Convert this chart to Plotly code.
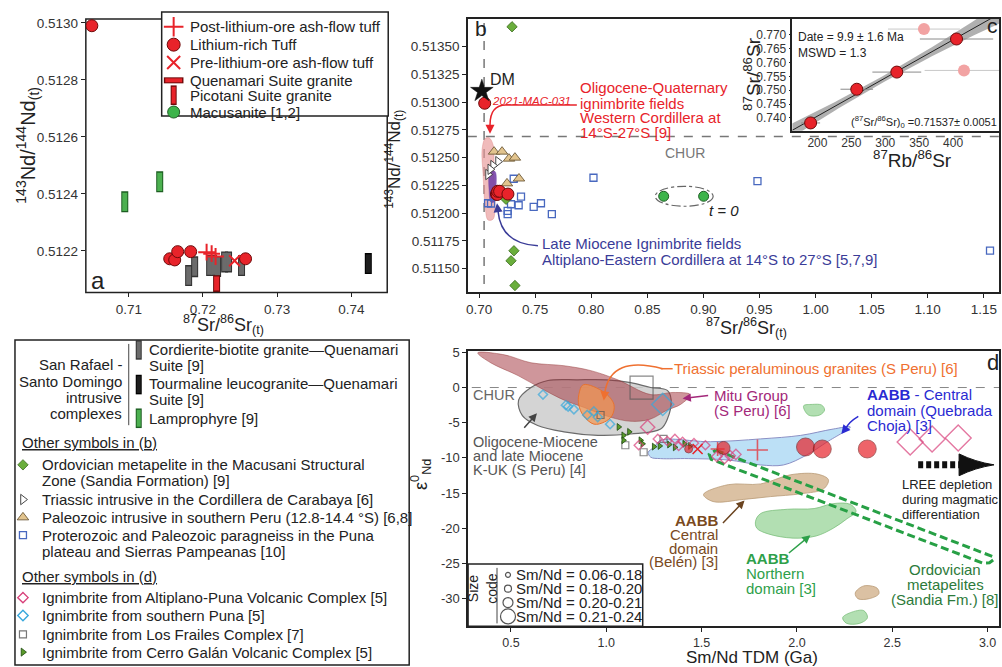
import re
import numpy as np
import plotly.graph_objects as go

W, H = 1002, 667
FONT = "Liberation Sans"
RED = "#e8232a"
RED_EDGE = "#6e0a0a"

# ---------------- (a) / (b): initial 87Sr/86Sr vs 143Nd/144Nd ----------------
post_sr = [0.72049, 0.72117, 0.72170]
post_nd = [0.512195, 0.512190, 0.512180]
li_sr = [0.70502, 0.71552, 0.71619, 0.71659, 0.71834, 0.72574]
li_nd = [0.512990, 0.512172, 0.512168, 0.512197, 0.512197, 0.512172]
pre_sr = [0.72426]
pre_nd = [0.512165]
pico_sr = [0.72184]
pico_nd = [0.512085]
cord_sr = [0.71807, 0.71888, 0.72090, 0.72144, 0.72197, 0.72292, 0.72345, 0.72520]
cord_nd = [0.512113, 0.512144, 0.512148, 0.512148, 0.512145, 0.512161, 0.512161, 0.512148]
tour_sr = [0.74229]
tour_nd = [0.512155]
lamp_sr = [0.70946, 0.71417]
lamp_nd = [0.512372, 0.512442]

# literature data shown in (b)
ord_sr = [0.7294, 0.7240, 0.7311, 0.7285, 0.7320]
ord_nd = [0.513679, 0.512125, 0.511661, 0.511571, 0.511348]
tri_sr = [0.7169, 0.7125, 0.7080, 0.7100]
tri_nd = [0.512464, 0.512429, 0.512348, 0.512395]
pal_sr = [0.7134, 0.7205, 0.7267, 0.7320, 0.7356, 0.7249]
pal_nd = [0.512554, 0.512554, 0.512491, 0.512500, 0.512312, 0.512268]
pgn_sr = [0.7309, 0.7374, 0.7353, 0.7255, 0.7255, 0.7285, 0.7487, 0.7552, 0.7649,
          0.7107, 0.7080, 0.8020, 0.9482, 1.1555]
pgn_nd = [0.512310, 0.512149, 0.512071, 0.512021, 0.511991, 0.512080, 0.512056, 0.512089,
          0.511991, 0.512087, 0.512089, 0.512319, 0.512288, 0.511663]
mac_sr = [0.8646, 0.9002]
mac_nd = [0.512152, 0.512152]
dm_sr = [0.7025]
dm_nd = [0.51310]
chur_nd = 0.51269
bse_sr = 0.7045
# ignimbrite fields in (b)
wc_sr = [0.7089, 0.7125, 0.7133, 0.7142, 0.7125, 0.7080, 0.7053, 0.7036, 0.7027, 0.7053]
wc_nd = [0.512679, 0.512616, 0.512348, 0.512036, 0.511946, 0.511938, 0.512080, 0.512348, 0.512571, 0.512670]
lm_sr = [0.7098, 0.7142, 0.7151, 0.7142, 0.7107, 0.7089]
lm_nd = [0.512366, 0.512375, 0.512214, 0.512107, 0.512098, 0.512214]

# ---------------- (c) Rb-Sr isochron ----------------
iso_rb = [190, 258, 317, 405]
iso_sr = [0.73821, 0.75036, 0.75654, 0.76846]
iso_rb_err = [14, 24, 36, 54]
iso_out_rb = [357, 416]
iso_out_sr = [0.77204, 0.75714]
iso_out_err = [53, 58]
iso_age, iso_age_err, iso_mswd = 9.9, 1.6, 1.3
iso_sr0, iso_sr0_err = 0.71537, 0.0051

# ---------------- (d) Sm/Nd TDM vs eps Nd ----------------
d_li_t = [1.432, 1.615, 2.045, 2.133, 2.369]
d_li_e = [-8.73, -8.59, -8.45, -8.73, -8.73]
d_li_s = [8, 13, 18, 18, 18]
d_post_t = [1.584, 1.793]
d_post_e = [-8.73, -8.87]
d_post_s = [10, 15]
d_pre_t = [1.479]
d_pre_e = [-8.73]
apvc_t = [1.17, 1.27, 1.32, 1.36, 1.40, 1.38, 1.46, 1.52, 1.58, 1.62, 1.65, 1.68, 1.217, 2.594, 2.709, 2.846]
apvc_e = [-8.2, -7.3, -7.6, -7.3, -7.7, -8.3, -7.9, -8.2, -9.8, -10.1, -9.7, -9.5, -5.63, -7.75, -7.32, -7.18]
apvc_s = [7, 7, 7, 7, 7, 7, 7, 7, 8, 8, 8, 8, 11, 20, 20, 20]
spuna_t = [0.668, 0.788, 0.80, 0.83, 0.90, 0.935, 0.955, 1.02, 1.296]
spuna_e = [-1.0, -2.5, -2.7, -3.1, -3.9, -3.4, -4.2, -5.2, -2.4]
spuna_s = [7, 7, 7, 7, 7, 7, 7, 7, 17]
lfc_t = [0.97, 1.10, 1.196, 1.30, 1.185]
lfc_e = [-3.9, -8.2, -9.2, -7.3, 0.0]
lfc_s = [7, 7, 7, 7, 23]
cgvc_t = [1.065, 1.09, 1.12, 1.09, 1.18, 1.19, 1.25, 1.28, 1.33, 1.41, 1.36, 1.44]
cgvc_e = [-5.6, -6.8, -6.3, -7.5, -7.5, -8.0, -8.4, -8.3, -8.1, -8.0, -8.5, -8.3]
# fields in (d)
kuk_t = [0.54, 0.605, 0.694, 0.85, 1.0, 1.128, 1.233, 1.32, 1.34, 1.32, 1.285, 1.128, 0.956, 0.778, 0.64, 0.56]
kuk_e = [-1.8, 0.0, 1.0, 1.1, 1.1, 0.7, 0.0, -0.4, -1.7, -4.5, -5.9, -6.6, -6.8, -6.3, -5.4, -4.0]
mitu_t = [0.326, 0.465, 0.605, 0.778, 0.919, 1.06, 1.233, 1.35, 1.44, 1.39, 1.32, 1.23, 1.13, 1.02, 0.88, 0.78, 0.67, 0.537, 0.395]
mitu_e = [4.93, 4.65, 3.52, 3.1, 2.4, 1.1, -1.0, -0.7, -1.0, -2.4, -3.2, -4.5, -4.8, -4.2, -2.8, -1.8, -0.3, 1.7, 3.5]
trg_t = [0.88, 0.99, 1.04, 1.03, 0.99, 0.935, 0.88, 0.856, 0.856]
trg_e = [0.4, -0.7, -2.4, -4.0, -4.9, -5.2, -4.0, -2.5, -1.0]
qc_t = [1.22, 1.25, 1.285, 1.547, 1.81, 2.02, 2.19, 2.28, 2.16, 2.05, 1.93, 1.81, 1.64, 1.43, 1.285, 1.233]
qc_e = [-9.2, -8.5, -7.5, -7.7, -7.3, -6.8, -5.9, -5.6, -7.7, -9.6, -11.0, -11.0, -10.3, -10.1, -10.1, -9.9]
nd1_t = [2.035, 2.08, 2.13, 2.145, 2.12, 2.06]
nd1_e = [-2.6, -2.4, -2.5, -3.2, -3.9, -3.9]
nd2_t = [1.783, 1.81, 1.95, 2.09, 2.19, 2.28, 2.31, 2.26, 2.19, 2.10, 1.98, 1.85, 1.79]
nd2_e = [-19.0, -17.9, -17.3, -17.2, -16.5, -16.6, -17.6, -18.7, -20.0, -21.1, -21.4, -20.8, -20.0]
nd3_t = [2.24, 2.28, 2.35, 2.37, 2.33, 2.26]
nd3_e = [-32.7, -32.0, -31.7, -32.7, -33.5, -33.5]
bel1_t = [1.51, 1.64, 1.81, 1.966, 2.107, 2.165, 2.14, 2.02, 1.86, 1.72, 1.56]
bel1_e = [-15.2, -13.8, -13.7, -12.4, -12.3, -13.1, -14.4, -15.1, -15.5, -15.9, -16.2]
bel2_t = [2.306, 2.35, 2.42, 2.43, 2.38, 2.32]
bel2_e = [-29.2, -28.2, -28.5, -29.3, -30.0, -30.0]
sandia_t = [1.575, 3.00, 3.025, 3.03, 3.01, 2.975, 1.55, 1.54]
sandia_e = [-8.9, -23.7, -24.0, -24.5, -24.9, -24.95, -10.2, -9.5]

# ---------------- ticks ----------------
a_xt = [0.71, 0.72, 0.73, 0.74]
a_yt = [0.5122, 0.5124, 0.5126, 0.5128, 0.5130]
b_xt = [0.70, 0.75, 0.80, 0.85, 0.90, 0.95, 1.00, 1.05, 1.10, 1.15]
b_yt = [0.51150, 0.51175, 0.51200, 0.51225, 0.51250, 0.51275, 0.51300, 0.51325, 0.51350]
c_xt = [200, 250, 300, 350, 400]
c_yt = [0.740, 0.745, 0.750, 0.755, 0.760, 0.765, 0.770]
d_xt = [0.5, 1.0, 1.5, 2.0, 2.5, 3.0]
d_yt = [5, 0, -5, -10, -15, -20, -25, -30]

legend_a = ["Post-lithium-ore ash-flow tuff", "Lithium-rich Tuff", "Pre-lithium-ore ash-flow tuff",
            "Quenamari Suite granite", "Picotani Suite granite", "Macusanite [1,2]"]
size_code = ["Sm/Nd = 0.06-0.18", "Sm/Nd = 0.18-0.20", "Sm/Nd = 0.20-0.21", "Sm/Nd = 0.21-0.24"]

fig = go.Figure()


def add(x, y, ax, **kw):
    xa = "x" if ax == 1 else f"x{ax}"
    ya = "y" if ax == 1 else f"y{ax}"
    fig.add_trace(go.Scatter(x=x, y=y, xaxis=xa, yaxis=ya, hoverinfo="skip", **kw))


def pts(x, y, ax, symbol, size, color, edge=None, lw=1, opacity=1):
    add(x, y, ax, mode="markers", opacity=opacity,
        marker=dict(symbol=symbol, size=size, color=color,
                    line=dict(color=edge if edge else color, width=lw)))


def bars(x, y, ax, fill, edge, length=13, thick=5):
    add(x, y, ax, mode="markers", marker=dict(symbol="line-ns", size=length + 2, color=edge,
                                               line=dict(color=edge, width=thick + 2)))
    add(x, y, ax, mode="markers", marker=dict(symbol="line-ns", size=length, color=fill,
                                               line=dict(color=fill, width=thick)))


def field(x, y, ax, fill, edge, lw=1, dash=None):
    add(list(x) + [x[0]], list(y) + [y[0]], ax, mode="lines", fill="toself", fillcolor=fill,
        line=dict(color=edge, width=lw, shape="spline", smoothing=1.0, dash=dash))


# ---- panel a ----
bars(cord_sr, cord_nd, 1, "#6b6b6b", "#333333")
bars(tour_sr, tour_nd, 1, "#1e1e1e", "#000000")
bars(lamp_sr, lamp_nd, 1, "#4cb050", "#1d5e22")
bars(pico_sr, pico_nd, 1, RED, RED_EDGE, length=10)
pts(li_sr, li_nd, 1, "circle", 12, RED, RED_EDGE, 1)
pts(post_sr, post_nd, 1, "cross-thin", 12, RED, RED, 2)
pts(pre_sr, pre_nd, 1, "x-thin", 11, RED, RED, 2)

# ---- panel b ----
field(wc_sr, wc_nd, 2, "rgba(232,150,150,0.65)", "rgba(220,130,130,0.8)", 0.5)
field(lm_sr, lm_nd, 2, "rgba(110,60,165,0.85)", "rgba(110,60,165,0.9)", 0.5)
pts(pgn_sr, pgn_nd, 2, "square-open", 7, "#4868bf", lw=1.3)
pts(ord_sr, ord_nd, 2, "diamond", 8, "#6aae3c", "#3b6b1f", 0.8)
pts(pal_sr, pal_nd, 2, "triangle-up", 10, "#e2c48e", "#5e4a28", 0.8)
pts(tri_sr, tri_nd, 2, "triangle-right", 9, "white", "#333333", 0.9)
pts(li_sr, li_nd, 2, "circle", 12, RED, RED_EDGE, 1)
pts(mac_sr, mac_nd, 2, "circle", 10, "#3cb44a", "#1f5e25", 1)
pts(dm_sr, dm_nd, 2, "star", 17, "#111111", "#111111", 0.5)

# ---- panel c (isochron) ----
fit = np.polyfit(iso_rb, iso_sr, 1)
xx = np.linspace(160, 470, 80)
yy = np.polyval(fit, xx)
half = 0.0012 + 7.5e-8 * (xx - np.mean(iso_rb)) ** 2
add(xx, yy - half, 3, mode="lines", line=dict(width=0, color="rgba(0,0,0,0)"))
add(xx, yy + half, 3, mode="lines", fill="tonexty", fillcolor="rgba(150,150,150,0.75)",
    line=dict(width=0, color="rgba(0,0,0,0)"))
add(xx, yy, 3, mode="lines", line=dict(color="#222222", width=1))
add(iso_out_rb, iso_out_sr, 3, mode="markers",
    error_x=dict(type="data", array=iso_out_err, color="#c8c8c8", thickness=1, width=0),
    marker=dict(size=12, color="#f2a3a3", line=dict(color="#f2a3a3", width=0)))
add(iso_rb, iso_sr, 3, mode="markers",
    error_x=dict(type="data", array=iso_rb_err, color="#8a8a8a", thickness=1, width=0),
    marker=dict(size=12, color=RED, line=dict(color=RED_EDGE, width=1)))

# ---- panel d ----
field(kuk_t, kuk_e, 4, "rgba(205,205,205,0.85)", "#6b6b6b", 1.2)
field(mitu_t, mitu_e, 4, "rgba(160,45,55,0.5)", "rgba(150,60,60,0.6)", 0.8)
field(trg_t, trg_e, 4, "rgba(243,150,80,0.7)", "#e8732f", 1)
field(qc_t, qc_e, 4, "rgba(184,222,245,0.95)", "#8a8fc4", 1)
field(nd1_t, nd1_e, 4, "rgba(170,220,170,0.9)", "#7cbf7c", 0.8)
field(nd2_t, nd2_e, 4, "rgba(170,220,170,0.9)", "#7cbf7c", 0.8)
field(nd3_t, nd3_e, 4, "rgba(170,220,170,0.9)", "#7cbf7c", 0.8)
field(bel1_t, bel1_e, 4, "rgba(217,190,158,0.95)", "#b99a76", 0.8)
field(bel2_t, bel2_e, 4, "rgba(217,190,158,0.95)", "#b99a76", 0.8)
add(sandia_t + [sandia_t[0]], sandia_e + [sandia_e[0]], 4, mode="lines",
    line=dict(color="#27a045", width=3, dash="8px,4px"))
pts(lfc_t, lfc_e, 4, "square-open", lfc_s, "#555555", lw=1.2)
pts(spuna_t, spuna_e, 4, "diamond-open", spuna_s, "#38a8dc", lw=1.5)
pts(cgvc_t, cgvc_e, 4, "triangle-right", 6, "#5a9a2a", "#1e4a10", 0.8)
pts(apvc_t, apvc_e, 4, "diamond-open", apvc_s, "#d8407a", lw=1.4)
pts(d_li_t, d_li_e, 4, "circle", d_li_s, RED, RED_EDGE, 0.8)
pts(d_post_t, d_post_e, 4, "cross-thin", d_post_s, RED, RED, 1.6)
pts(d_pre_t, d_pre_e, 4, "x-thin", 10, RED, RED, 1.6)

# ---- overlay in pixel units: legend swatches ----
la_y = [21, 39, 57, 75, 90, 107]
pts([172], [la_y[0]], 5, "cross-thin", 14, RED, RED, 2)
pts([172], [la_y[1]], 5, "circle", 13, RED, RED_EDGE, 1)
pts([172], [la_y[2]], 5, "x-thin", 13, RED, RED, 2)
add([172], [la_y[3]], 5, mode="markers", marker=dict(symbol="line-ew", size=14, color=RED_EDGE,
                                                     line=dict(color=RED_EDGE, width=6)))
add([172], [la_y[3]], 5, mode="markers", marker=dict(symbol="line-ew", size=12, color=RED,
                                                     line=dict(color=RED, width=4)))
bars([172], [la_y[4]], 5, RED, RED_EDGE, length=12, thick=4)
pts([172], [la_y[5]], 5, "circle", 12, "#3cb44a", "#1f5e25", 1)

bars([137], [347], 5, "#6b6b6b", "#333333", length=12, thick=4)
bars([137], [382], 5, "#1e1e1e", "#000000", length=12, thick=4)
bars([137], [416], 5, "#4cb050", "#1d5e22", length=12, thick=4)
pts([21], [463], 5, "diamond", 8, "#6aae3c", "#3b6b1f", 0.8)
pts([21], [498], 5, "triangle-right", 9, "white", "#333333", 0.9)
pts([21], [516], 5, "triangle-up", 10, "#e2c48e", "#5e4a28", 0.8)
pts([21], [534], 5, "square-open", 7, "#4868bf", lw=1.3)
pts([21], [597], 5, "diamond-open", 8, "#d8407a", lw=1.4)
pts([21], [615], 5, "diamond-open", 8, "#38a8dc", lw=1.4)
pts([21], [634], 5, "square-open", 7, "#777777", lw=1.2)
pts([21], [652], 5, "triangle-right", 7, "#5a9a2a", "#1e4a10", 0.8)
sc_y = [574, 588, 602, 616]
for yv, s in zip(sc_y, [5, 7, 10, 15]):
    pts([507], [yv], 5, "circle-open", s, "#555555", lw=1.2)

# ---------------- layout helpers ----------------
ann = []
shapes = []


def P(x, y):
    return x / W, 1 - y / H


def text(x, y, s, size=15, color="#222222", xanchor="left", yanchor="middle", angle=0):
    px, py = P(x, y)
    ann.append(dict(x=px, y=py, xref="paper", yref="paper", text=s, showarrow=False,
                    xanchor=xanchor, yanchor=yanchor, textangle=angle, borderpad=0,
                    font=dict(family=FONT, size=size, color=color)))


def arrow(tail, tip, color, width=1.5, size=1.0):
    px, py = P(*tip)
    ann.append(dict(x=px, y=py, xref="paper", yref="paper", ax=tail[0] - tip[0], ay=tail[1] - tip[1],
                    text="", showarrow=True, arrowhead=2, arrowsize=size, arrowwidth=width,
                    arrowcolor=color, standoff=0))


def ppath(d):
    def rep(m):
        x, y = P(float(m.group(1)), float(m.group(2)))
        return f"{x:.5f},{y:.5f}"
    return re.sub(r"(-?\d+\.?\d*),(-?\d+\.?\d*)", rep, d)


def rect(x0, y0, x1, y1, fill="rgba(0,0,0,0)", color="#222222", width=1.5, layer="below"):
    a, b = P(x0, y0)
    c, d = P(x1, y1)
    shapes.append(dict(type="rect", xref="paper", yref="paper", x0=a, y0=d, x1=c, y1=b,
                       fillcolor=fill, line=dict(color=color, width=width), layer=layer))


def seg(x0, y0, x1, y1, color="#222222", width=1.2, dash=None, layer="above"):
    a, b = P(x0, y0)
    c, d = P(x1, y1)
    shapes.append(dict(type="line", xref="paper", yref="paper", x0=a, y0=b, x1=c, y1=d,
                       line=dict(color=color, width=width, dash=dash), layer=layer))


def curve(d, color, width=1.5, fill=None):
    shapes.append(dict(type="path", xref="paper", yref="paper", path=ppath(d),
                       line=dict(color=color, width=width),
                       fillcolor=fill if fill else "rgba(0,0,0,0)", layer="above"))


# frames / boxes
rect(84, 13, 386, 289)
rect(160, 6, 387, 111, fill="white")
rect(13, 337, 408, 665, fill="white")
rect(467, 563, 642, 626, fill="white")
seg(127, 341, 127, 423, color="#444444", width=1)
seg(496, 567, 496, 623, color="#444444", width=1)

# reference lines in (b) and (d)
shapes.append(dict(type="line", xref="x2", yref="y2", x0=0.69, x1=1.17, y0=chur_nd, y1=chur_nd,
                   line=dict(color="#777777", width=1.5, dash="dash"), layer="below"))
shapes.append(dict(type="line", xref="x2", yref="y2", x0=bse_sr, x1=bse_sr, y0=0.5112, y1=0.5138,
                   line=dict(color="#777777", width=1.5, dash="dash"), layer="below"))
shapes.append(dict(type="circle", xref="x2", yref="y2", x0=min(mac_sr) - 0.0075, x1=max(mac_sr) + 0.0085,
                   y0=mac_nd[0] - 0.00009, y1=mac_nd[0] + 0.00009,
                   line=dict(color="#666666", width=1.2, dash="dashdot"), layer="below"))
shapes.append(dict(type="line", xref="x4", yref="y4", x0=0.2, x1=3.1, y0=0, y1=0,
                   line=dict(color="#888888", width=1, dash="dash"), layer="below"))

# ---- text: panel a ----
text(88, 277, "a", 24, "#222222")
for s, yv in zip(legend_a, la_y):
    text(187, yv, s, 15)
text(26, 140, "<sup>143</sup>Nd/<sup>144</sup>Nd<sub>(t)</sub>", 20, angle=-90, xanchor="center")
text(222, 321, "<sup>87</sup>Sr/<sup>86</sup>Sr<sub>(t)</sub>", 18, xanchor="center")

# ---- text: panel b ----
text(473, 23, "b", 21)
text(488, 74, "DM", 16)
text(490, 96, "<i>2021-MAC-031</i>", 11.5, RED)
for s, yv in zip(["Oligocene-Quaternary", "ignimbrite fields", "Western Cordillera at", "14°S-27°S [9]"],
                 [82, 98, 113, 128]):
    text(578, yv, s, 15, RED)
curve("M 576,100 L 505,100 Q 489,100 489,120", RED, 1.5)
arrow((489, 120), (489, 129), RED, 1.5, 1.2)
text(540, 240, "Late Miocene Ignimbrite fields", 15, "#3a3c98")
text(540, 256, "Altiplano-Eastern Cordillera at 14°S to 27°S [5,7,9]", 15, "#3a3c98")
curve("M 537,242 Q 500,240 497,207", "#3a3c98", 1.5)
arrow((497, 207), (496, 199), "#3a3c98", 1.5, 1.2)
text(663, 148, "CHUR", 14, "#777777")
text(707, 206, "<i>t = 0</i>", 15, "#222222")
text(393, 155, "<sup>143</sup>Nd/<sup>144</sup>Nd<sub>(t)</sub>", 17, angle=-90, xanchor="center")
text(746, 324, "<sup>87</sup>Sr/<sup>86</sup>Sr<sub>(t)</sub>", 18, xanchor="center")

# ---- text: panel c ----
text(992, 20, "c", 21, xanchor="center")
text(797, 31, f"Date = {iso_age} ± {iso_age_err} Ma", 12)
text(797, 47, f"MSWD = {iso_mswd}", 12)
text(998, 117, f"(<sup>87</sup>Sr/<sup>86</sup>Sr)<sub>0</sub> ={iso_sr0}± {iso_sr0_err}", 11, xanchor="right")
text(752, 68, "<sup>87</sup>Sr/<sup>86</sup>Sr", 19, angle=-90, xanchor="center")
text(912, 154, "<sup>87</sup>Rb/<sup>86</sup>Sr", 19, xanchor="center")

# ---- text: panel d ----
text(993, 360, "d", 22, xanchor="center")
text(471, 393, "CHUR", 14.5, "#666666")
for s, yv in zip(["Oligocene-Miocene", "and late Miocene", "K-UK (S Peru) [4]"], [440, 454, 468]):
    text(471, yv, s, 14.5, "#555555")
arrow((522, 427), (536, 411), "#444444", 1.5, 1.1)
seg(660, 366, 672, 366, color="#ef7030", width=1.5)
text(672, 366, "Triassic peraluminous granites (S Peru) [6]", 15, "#ef7030")
curve("M 662,366 Q 610,352 604,390", "#ef7030", 1.5)
arrow((604, 390), (603, 398), "#ef7030", 1.5, 1.2)
text(712, 393, "Mitu Group", 15, "#a3287a")
text(712, 408, "(S Peru) [6]", 15, "#a3287a")
arrow((709, 393), (682, 396), "#a3287a", 1.5, 1.1)
text(866, 392, "<b>AABB</b> - Central", 15, "#2a2ad2")
text(866, 408, "domain (Quebrada", 15, "#2a2ad2")
text(866, 423, "Choja) [3]", 15, "#2a2ad2")
curve("M 858,414 Q 848,420 845,427", "#2a2ad2", 1.5)
arrow((845, 427), (841, 432), "#2a2ad2", 1.5, 1.2)
seg(918, 463, 961, 463, color="#111111", width=7, dash="5px,3px")
curve("M 959,452 Q 975,460 994,463 Q 975,466 959,474 Z", "#111111", 1, fill="#111111")
for s, yv in zip(["LREE depletion", "during magmatic", "differentiation"], [483, 498, 513]):
    text(901, yv, s, 13, "#222222")
for s, yv in zip(["<b>AABB</b>", "Central", "domain", "(Belén) [3]"], [519, 533, 547, 561]):
    text(718, yv, s, 15, "#7a4a1e", xanchor="right")
arrow((721, 523), (744, 499), "#6b4420", 1.5, 1.1)
for s, yv in zip(["<b>AABB</b>", "Northern", "domain [3]"], [558, 573, 588]):
    text(744, yv, s, 15, "#2ea04a")
arrow((787, 553), (810, 534), "#2ea04a", 1.5, 1.1)
for s, yv in zip(["Ordovician", "metapelites", "(Sandia Fm.) [8]"], [569, 584, 599]):
    text(945, yv, s, 15, "#2d7a3a", xanchor="center")
text(481, 588, "Size<br>code", 14, angle=-90, xanchor="center")
for s, yv in zip(size_code, sc_y):
    text(514, yv, s, 15)
text(420, 473, "ε<sup>0</sup><sub>Nd</sub>", 18, angle=-90, xanchor="center")
text(752, 657, "Sm/Nd TDM (Ga)", 17, xanchor="center")

# ---- text: lower-left legend ----
for s, yv in zip(["San Rafael -", "Santo Domingo", "intrusive", "complexes"], [362, 379, 395, 411]):
    text(121, yv, s, 15, xanchor="right")
for s, yv in [("Cordierite-biotite granite—Quenamari", 347), ("Suite [9]", 363),
              ("Tourmaline leucogranite—Quenamari", 381), ("Suite [9]", 397), ("Lamprophyre [9]", 416)]:
    text(146, yv, s, 15)
text(19, 440, "<u>Other symbols in (b)</u>", 15)
for s, yv in [("Ordovician metapelite in the Macusani Structural", 463),
              ("Zone (Sandia Formation) [9]", 479),
              ("Triassic intrusive in the Cordillera de Carabaya [6]", 498),
              ("Paleozoic intrusive in southern Peru (12.8-14.4 °S) [6,8]", 516),
              ("Proterozoic and Paleozoic paragneiss in the Puna", 534),
              ("plateau and Sierras Pampeanas [10]", 550)]:
    text(39, yv, s, 15)
text(19, 576, "<u>Other symbols in (d)</u>", 15)
for s, yv in [("Ignimbrite from Altiplano-Puna Volcanic Complex [5]", 597),
              ("Ignimbrite from southern Puna [5]", 615),
              ("Ignimbrite from Los Frailes Complex [7]", 634),
              ("Ignimbrite from Cerro Galán Volcanic Complex [5]", 652)]:
    text(39, yv, s, 15)


# ---------------- axes ----------------
def axis(dom, rng, vals, labels, anchor, frame=True, size=13.5, ticklen=4):
    d = dict(domain=dom, range=rng, autorange=False, tickmode="array", tickvals=vals, ticktext=labels,
             ticks="outside" if ticklen else "", ticklen=ticklen, tickwidth=1, tickcolor="#222222",
             showline=frame, mirror=frame, linecolor="#222222", linewidth=1.5,
             showgrid=False, zeroline=False, anchor=anchor, fixedrange=True,
             tickfont=dict(family=FONT, size=size, color="#333333"))
    return d


def xd(a, b):
    return [a / W, b / W]


def yd(top, bottom):
    return [1 - bottom / H, 1 - top / H]


fig.update_layout(
    width=W, height=H, margin=dict(l=0, r=0, t=0, b=0),
    paper_bgcolor="white", plot_bgcolor="rgba(0,0,0,0)", showlegend=False,
    font=dict(family=FONT, color="#222222"),
    xaxis=axis(xd(84, 386), [0.70421, 0.74484], a_xt, [f"{v:.2f}" for v in a_xt], "y", frame=False),
    yaxis=axis(yd(13, 289), [0.512054, 0.513014], a_yt, [f"{v:.4f}" for v in a_yt], "x", frame=False),
    xaxis2=axis(xd(467, 999), [0.69021, 1.16352], b_xt, [f"{v:.2f}" for v in b_xt], "y2"),
    yaxis2=axis(yd(13, 289), [0.511286, 0.51375], b_yt, [f"{v:.5f}" for v in b_yt], "x2"),
    xaxis3=axis(xd(792, 999), [163.2, 467.6], c_xt, [str(v) for v in c_xt], "y3", size=12, ticklen=0),
    yaxis3=axis(yd(13, 126), [0.73536, 0.77571], c_yt, [f"{v:.3f}" for v in c_yt], "x3", size=12, ticklen=2),
    xaxis4=axis(xd(467, 999), [0.275, 3.060], d_xt, [f"{v:.1f}" for v in d_xt], "y4", size=12.5),
    yaxis4=axis(yd(348, 626), [-33.94, 5.21], d_yt, [str(v) for v in d_yt], "x4", size=13),
    xaxis5=dict(domain=[0, 1], range=[0, W], visible=False, fixedrange=True, anchor="y5"),
    yaxis5=dict(domain=[0, 1], range=[H, 0], visible=False, fixedrange=True, anchor="x5"),
    annotations=ann, shapes=shapes,
)

fig.write_html("out.html")
